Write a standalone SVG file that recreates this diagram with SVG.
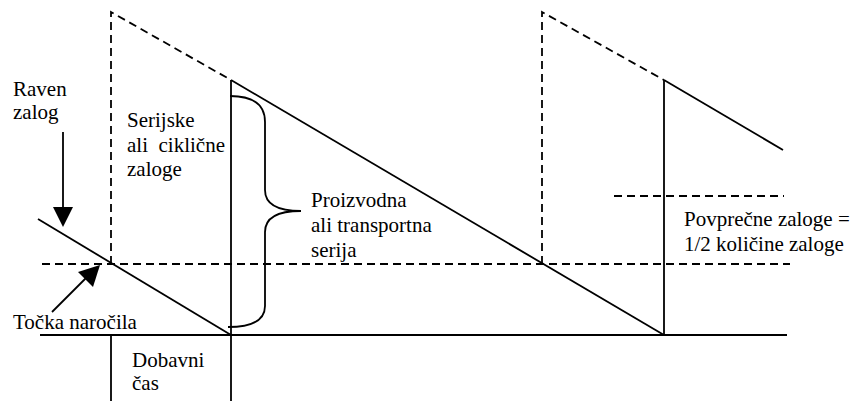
<svg xmlns="http://www.w3.org/2000/svg" width="854" height="401" viewBox="0 0 854 401">
  <style>
    .solid { fill: none; stroke: #000; stroke-width: 1.8; }
    .dash { fill: none; stroke: #000; stroke-width: 1.8; stroke-dasharray: 8 5; }
    .lbl { font-family: "Liberation Serif", "DejaVu Serif", "Times New Roman", serif; font-size: 21px; fill: #000; }
  </style>
  <rect width="854" height="401" fill="#fff"/>

  <g id="connectors">
    <!-- baseline (zero stock) -->
    <line class="solid" x1="40" y1="335" x2="787" y2="335"/>
    <!-- reorder level -->
    <line class="dash" x1="42" y1="264" x2="790" y2="264"/>
    <!-- average stock level -->
    <line class="dash" x1="614" y1="196" x2="784" y2="196"/>

    <!-- first tooth (depleting) -->
    <line class="solid" x1="38" y1="219" x2="231" y2="335"/>
    <!-- first replenishment (planned) -->
    <polyline class="dash" points="111,264 111,12 231,80"/>
    <!-- lead time markers -->
    <line class="solid" x1="111" y1="335" x2="111" y2="401"/>
    <line class="solid" x1="231" y1="80" x2="231" y2="401"/>

    <!-- second tooth -->
    <line class="solid" x1="231" y1="80" x2="664" y2="335"/>
    <polyline class="dash" points="542,264 542,12 664,80"/>
    <line class="solid" x1="664" y1="80" x2="664" y2="335"/>
    <line class="solid" x1="664" y1="80" x2="783" y2="150"/>

    <!-- brace for batch size -->
    <path class="solid" d="M230,96 Q265,96 265,122 L265,190 Q265,211 301,211 Q265,211 265,232 L265,306 Q265,327 228,327"/>

    <!-- arrows -->
    <line class="solid" x1="63" y1="132" x2="63" y2="208"/>
    <path d="M53,207 L73,207 L63,227 Z" fill="#000"/>
    <line class="solid" x1="52" y1="312" x2="86" y2="278"/>
    <path d="M100,265 L78,272 L93,287 Z" fill="#000"/>
  </g>

  <g id="raven-zalog">
    <text class="lbl" x="13" y="96" font-family="Liberation Serif, DejaVu Serif, serif">Raven</text>
    <text class="lbl" x="13" y="119" font-family="Liberation Serif, DejaVu Serif, serif">zalog</text>
  </g>
  <g id="serijske">
    <text class="lbl" x="127" y="127">Serijske</text>
    <text class="lbl" x="127" y="152" xml:space="preserve">ali  ciklične</text>
    <text class="lbl" x="127" y="176">zaloge</text>
  </g>
  <g id="proizvodna">
    <text class="lbl" x="311" y="207">Proizvodna</text>
    <text class="lbl" x="311" y="232">ali transportna</text>
    <text class="lbl" x="311" y="257">serija</text>
  </g>
  <g id="tocka">
    <text class="lbl" x="13" y="329">Točka naročila</text>
  </g>
  <g id="dobavni">
    <text class="lbl" x="132" y="367">Dobavni</text>
    <text class="lbl" x="132" y="390">čas</text>
  </g>
  <g id="povprecne">
    <text class="lbl" x="684" y="226">Povprečne zaloge =</text>
    <text class="lbl" x="684" y="251">1/2 količine zaloge</text>
  </g>
</svg>
